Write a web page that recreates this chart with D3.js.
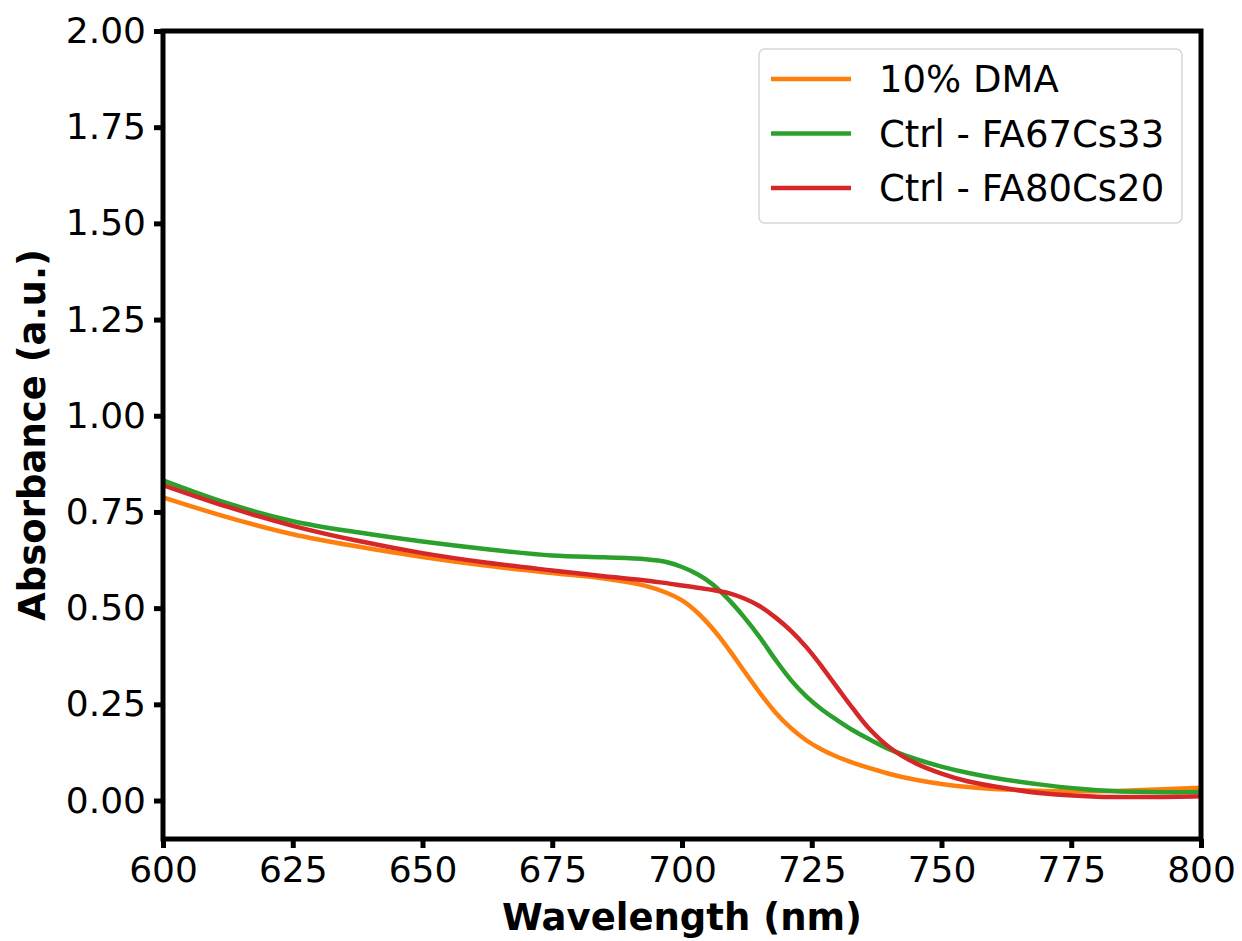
<!DOCTYPE html>
<html>
<head>
<meta charset="utf-8">
<script src="https://cdn.jsdelivr.net/npm/d3@7"></script>
<style>
  html, body { margin: 0; padding: 0; background: #fff; }
  svg { display: block; }
  text { font-family: "DejaVu Sans", sans-serif; fill: #000; }
</style>
</head>
<body>
<svg id="chart" width="1242" height="941"></svg>
<script>
// Wavelength grid (nm) shared by all spectra
const wavelengths = [600, 612.5, 625, 637.5, 650, 662.5, 675, 685, 693, 697, 700, 703, 706, 709, 712, 715, 718, 721, 724, 727, 730, 733, 736, 740, 745, 750, 755, 760, 770, 780, 790, 800];

// Absorbance (a.u.) for each sample
const dma10 = [0.788, 0.736, 0.692, 0.660, 0.633, 0.610, 0.591, 0.577, 0.558, 0.540, 0.520, 0.488, 0.445, 0.393, 0.336, 0.280, 0.229, 0.188, 0.156, 0.132, 0.113, 0.098, 0.085, 0.069, 0.054, 0.043, 0.035, 0.030, 0.025, 0.024, 0.028, 0.033];
const fa67cs33 = [0.832, 0.772, 0.726, 0.697, 0.673, 0.653, 0.637, 0.632, 0.627, 0.620, 0.607, 0.588, 0.561, 0.522, 0.476, 0.424, 0.366, 0.313, 0.270, 0.236, 0.208, 0.182, 0.160, 0.133, 0.108, 0.088, 0.072, 0.059, 0.040, 0.027, 0.022, 0.022];
const fa80cs20 = [0.820, 0.763, 0.714, 0.675, 0.643, 0.618, 0.598, 0.583, 0.572, 0.565, 0.559, 0.553, 0.547, 0.539, 0.525, 0.505, 0.476, 0.441, 0.398, 0.347, 0.292, 0.238, 0.188, 0.138, 0.097, 0.070, 0.050, 0.037, 0.018, 0.010, 0.009, 0.011];

const seriesNames = ["10% DMA", "Ctrl - FA67Cs33", "Ctrl - FA80Cs20"];
const seriesColors = ["#ff7f0e", "#2ca02c", "#d62728"];
const seriesValues = [dma10, fa67cs33, fa80cs20];

const xTicks = [600, 625, 650, 675, 700, 725, 750, 775, 800];
const yTicks = [0, 0.25, 0.5, 0.75, 1.0, 1.25, 1.5, 1.75, 2.0];

const svg = d3.select("#chart");
const plot = { left: 163, right: 1201, top: 31, bottom: 839 };

const x = d3.scaleLinear().domain([600, 800]).range([plot.left, plot.right]);
const y = d3.scaleLinear().domain([-0.1, 2.0]).range([plot.bottom, plot.top]);

const fontSize = 36;
const titleSize = 37;
const spineW = 5;

// Spectra, clipped to the axes box
svg.append("clipPath").attr("id", "clip")
  .append("rect")
  .attr("x", plot.left).attr("y", plot.top)
  .attr("width", plot.right - plot.left).attr("height", plot.bottom - plot.top);

const line = d3.line()
  .x((d, i) => x(wavelengths[i]))
  .y(d => y(d))
  .curve(d3.curveCatmullRom.alpha(0.5));

const lines = svg.append("g").attr("clip-path", "url(#clip)");
seriesValues.forEach((vals, k) => {
  lines.append("path")
    .datum(vals)
    .attr("d", line)
    .attr("fill", "none")
    .attr("stroke", seriesColors[k])
    .attr("stroke-width", 4.5)
    .attr("stroke-linejoin", "round")
    .attr("stroke-linecap", "butt");
});

// Axes
const xAxis = d3.axisBottom(x).tickValues(xTicks).tickFormat(d3.format("d"))
  .tickSize(9).tickPadding(8);
const yAxis = d3.axisLeft(y).tickValues(yTicks).tickFormat(d3.format(".2f"))
  .tickSize(9).tickPadding(8);

const gx = svg.append("g").attr("transform", `translate(0,${plot.bottom})`).call(xAxis);
const gy = svg.append("g").attr("transform", `translate(${plot.left},0)`).call(yAxis);
[gx, gy].forEach(g => {
  g.select(".domain").remove();
  g.selectAll(".tick line").attr("stroke", "#000").attr("stroke-width", spineW);
  g.selectAll(".tick text")
    .attr("font-family", "DejaVu Sans")
    .attr("font-size", fontSize)
    .attr("fill", "#000");
});

// Frame
svg.append("rect")
  .attr("x", plot.left).attr("y", plot.top)
  .attr("width", plot.right - plot.left).attr("height", plot.bottom - plot.top)
  .attr("fill", "none").attr("stroke", "#000").attr("stroke-width", spineW)
  .attr("stroke-linejoin", "miter");

// Axis titles
svg.append("text")
  .attr("x", (plot.left + plot.right) / 2).attr("y", 930)
  .attr("text-anchor", "middle")
  .attr("font-size", titleSize).attr("font-weight", "bold")
  .text("Wavelength (nm)");

svg.append("text")
  .attr("transform", `translate(45,${(plot.top + plot.bottom) / 2}) rotate(-90)`)
  .attr("text-anchor", "middle")
  .attr("font-size", titleSize).attr("font-weight", "bold")
  .text("Absorbance (a.u.)");

// Legend
const legend = svg.append("g");
legend.append("rect")
  .attr("x", 759).attr("y", 49).attr("width", 423).attr("height", 174)
  .attr("rx", 6).attr("ry", 6)
  .attr("fill", "#fff").attr("fill-opacity", 0.8)
  .attr("stroke", "#d6d6d6").attr("stroke-width", 1.5);

seriesNames.forEach((name, k) => {
  const cy = 79 + k * 54.5;
  legend.append("line")
    .attr("x1", 771).attr("x2", 851).attr("y1", cy).attr("y2", cy)
    .attr("stroke", seriesColors[k]).attr("stroke-width", 4.5);
  legend.append("text")
    .attr("x", 879).attr("y", cy).attr("dy", "0.36em")
    .attr("font-size", titleSize)
    .text(name);
});
</script>
</body>
</html>
